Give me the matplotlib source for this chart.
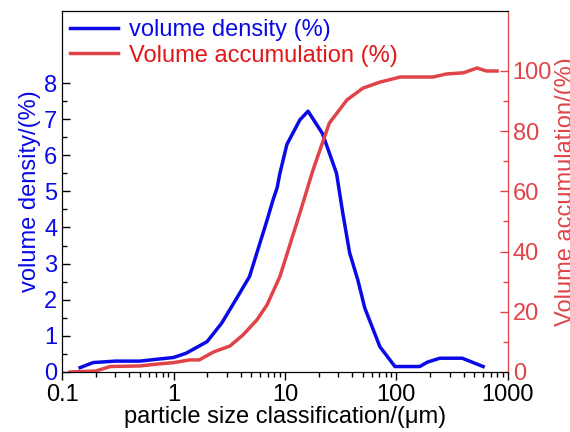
import matplotlib.pyplot as plt
from matplotlib.ticker import FixedLocator

plt.rcParams['font.family'] = ['Liberation Sans', 'DejaVu Sans']

# particle size (um) and volume density (%)
size_d = [0.145, 0.19, 0.3, 0.5, 0.7, 1.0, 1.3, 2.0, 2.7, 3.7, 4.8, 6.9, 7.8, 8.5, 9.0,
          10.4, 13.6, 16.1, 21.7, 29, 33, 38, 45, 52, 71, 97, 162, 189, 245, 390, 600]
density = [0.12, 0.26, 0.3, 0.3, 0.35, 0.4, 0.52, 0.84, 1.35, 2.05, 2.64, 4.2, 4.76, 5.1, 5.5,
           6.3, 6.98, 7.22, 6.6, 5.5, 4.4, 3.3, 2.55, 1.77, 0.7, 0.15, 0.15, 0.27, 0.38, 0.38, 0.15]

# particle size (um) and volume accumulation (%)
size_a = [0.118, 0.2, 0.27, 0.5, 0.75, 1.0, 1.4, 1.7, 2.3, 3.2, 4.2, 5.6, 6.9, 9.0,
          13.6, 17.8, 25, 36, 50, 71, 108, 213, 280, 400, 530, 640, 800]
accum = [0.0, 0.3, 1.8, 2.0, 2.7, 3.1, 4.0, 4.0, 6.7, 8.6, 12.3, 17.3, 22.3, 31.7,
         52.8, 67, 82.7, 90.4, 94.3, 96.3, 98, 98, 99, 99.4, 101, 100, 100]

blue = '#0a0ae6'
red = '#e04448'

fig = plt.figure(figsize=(5.7, 4.32), dpi=100)
ax = fig.add_axes([0.109, 0.139, 0.782, 0.836])
ax2 = ax.twinx()

l1, = ax.plot(size_d, density, color=blue, lw=2.5, label='volume density (%)')
l2, = ax2.plot(size_a, accum, color=red, lw=2.5, label='Volume accumulation (%)')

ax.set_xscale('log')
ax.set_xlim(0.1, 1000)
ax.set_ylim(0, 10)
ax2.set_ylim(0, 120)

ax.set_xticks([0.1, 1, 10, 100, 1000])
ax.set_xticklabels(['0.1', '1', '10', '100', '1000'])
ax.yaxis.set_major_locator(FixedLocator([0, 1, 2, 3, 4, 5, 6, 7, 8]))
ax.yaxis.set_minor_locator(FixedLocator([0.5, 1.5, 2.5, 3.5, 4.5, 5.5, 6.5, 7.5]))
ax2.yaxis.set_major_locator(FixedLocator([0, 20, 40, 60, 80, 100]))
ax2.yaxis.set_minor_locator(FixedLocator([10, 30, 50, 70, 90]))

ax.tick_params(axis='x', which='both', direction='out', labelsize=17, color='black', pad=3)
ax.tick_params(axis='x', which='major', length=6, width=1)
ax.tick_params(axis='x', which='minor', length=3.5, width=1)
ax.tick_params(axis='y', which='both', direction='in', labelsize=17, labelcolor=blue, color='black')
ax.tick_params(axis='y', which='major', length=6, width=1)
ax.tick_params(axis='y', which='minor', length=3.5, width=1)
ax2.tick_params(axis='y', which='both', direction='in', labelsize=17, labelcolor=red, color=red)
ax2.tick_params(axis='y', which='major', length=6, width=1)
ax2.tick_params(axis='y', which='minor', length=3.5, width=1)
ax2.spines['right'].set_color(red)

ax.set_xlabel('particle size classification/(μm)', fontsize=17, labelpad=0)
ax.set_ylabel('volume density/(%)', fontsize=17, color=blue, labelpad=2)
ax2.set_ylabel('Volume accumulation/(%)', fontsize=17, color=red, labelpad=2)

leg = ax.legend([l1, l2], [l1.get_label(), l2.get_label()], loc='upper left', frameon=False,
                fontsize=17, handlelength=2.0, handletextpad=0.5, borderaxespad=0.15,
                borderpad=0.2, labelspacing=0.15)
leg.get_texts()[0].set_color(blue)
leg.get_texts()[1].set_color('#e01818')

fig.savefig('out.png', dpi=100)
